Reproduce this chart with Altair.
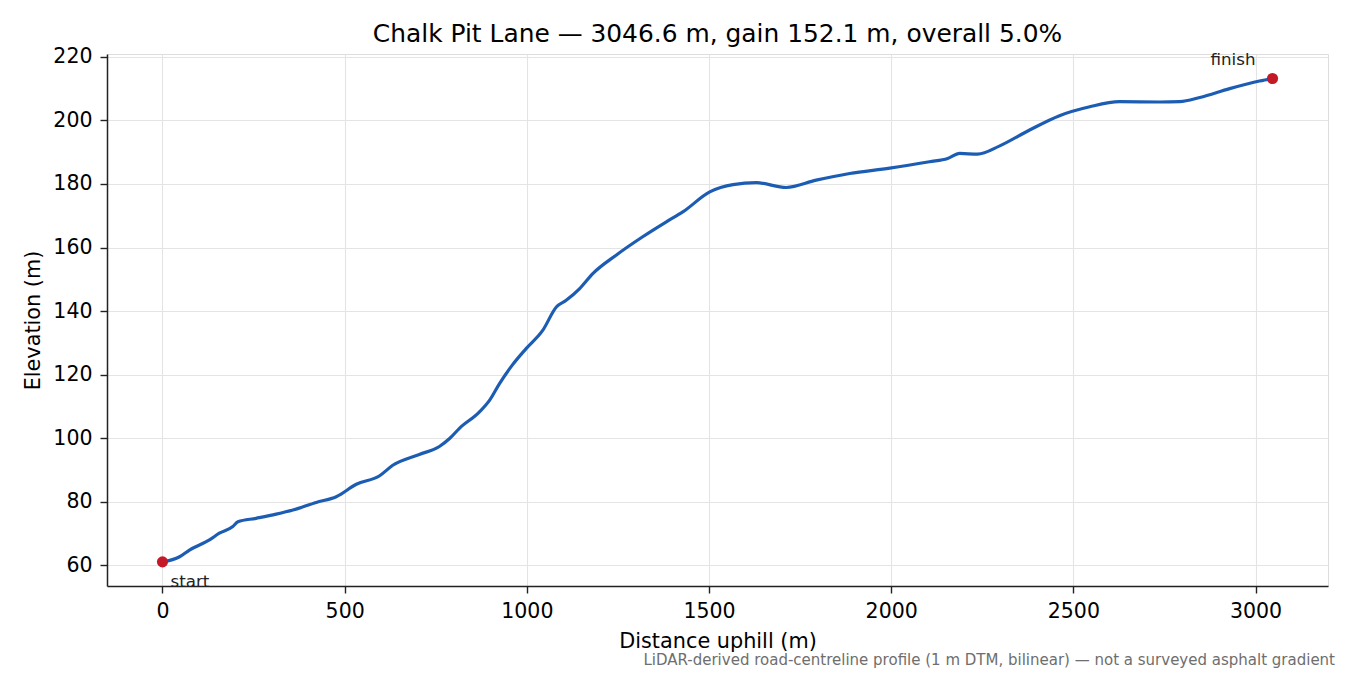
import altair as alt
import pandas as pd

distance = [0, 47, 74, 129, 156, 193, 207, 257, 312, 358, 422, 477, 532, 596, 632,
            705, 760, 788, 815, 870, 898, 925, 960, 998, 1044, 1081, 1108, 1145, 1181,
            1245, 1318, 1383, 1428, 1502, 1566, 1630, 1712, 1794, 1886, 1996, 2105,
            2155, 2188, 2237, 2298, 2380, 2462, 2545, 2627, 2737, 2792, 2847, 2929,
            3011, 3046.6]
elevation = [61.1, 62.7, 64.8, 68.0, 70.1, 72.2, 73.7, 74.8, 76.1, 77.4, 79.8, 81.6,
             85.5, 88.2, 91.5, 94.9, 97.4, 99.9, 103.1, 108.3, 112.0, 117.2, 123.0,
             128.2, 134.0, 141.3, 143.4, 147.1, 151.8, 157.6, 163.4, 168.1, 171.2,
             177.5, 179.8, 180.4, 178.9, 181.2, 183.3, 185.0, 187.0, 188.0, 189.6,
             189.4, 192.0, 197.0, 201.5, 204.3, 205.9, 205.8, 205.9, 207.2, 210.0,
             212.4, 213.2]

end_labels = ["start", "finish"]
end_distance = [0, 3046.6]
end_elevation = [61.1, 213.2]

title_text = "Chalk Pit Lane \u2014 3046.6 m, gain 152.1 m, overall 5.0%"
note_text = ("LiDAR-derived road-centreline profile (1 m DTM, bilinear) \u2014 "
             "not a surveyed asphalt gradient")

profile = pd.DataFrame({"d": distance, "e": elevation})
ends = pd.DataFrame({"label": end_labels, "d": end_distance, "e": end_elevation})

FONT = "DejaVu Sans"
xs = alt.Scale(domain=[-152.3, 3198.9], nice=False, zero=False)
ys = alt.Scale(domain=[53.5, 220.9], nice=False, zero=False)

common = dict(grid=True, gridColor="#e4e4e4", gridWidth=1.1, tickColor="#222222", tickSize=7,
              tickWidth=1.4, domainColor="#222222", domainWidth=1.5, labelFontSize=20.5,
              titleFontSize=20.8, labelColor="black", titleColor="black", labelFont=FONT,
              titleFont=FONT, titleFontWeight="normal", labelFlush=False)

x_axis = alt.Axis(title="Distance uphill (m)", values=[0, 500, 1000, 1500, 2000, 2500, 3000],
                  format="d", titlePadding=10, labelPadding=8, **common)
y_axis = alt.Axis(title="Elevation (m)", values=[60, 80, 100, 120, 140, 160, 180, 200, 220],
                  format="d", titlePadding=9, labelPadding=8, **common)

line = alt.Chart(profile).mark_line(color="#1c5db3", strokeWidth=3.2,
                                    interpolate="monotone").encode(
    x=alt.X("d:Q", scale=xs, axis=x_axis),
    y=alt.Y("e:Q", scale=ys, axis=y_axis),
)

pts = alt.Chart(ends).mark_circle(color="#c41a28", opacity=1, size=125).encode(
    x=alt.X("d:Q", scale=xs), y=alt.Y("e:Q", scale=ys)
)

start_lbl = alt.Chart(ends).transform_filter(alt.datum.label == "start").mark_text(
    align="left", baseline="alphabetic", dx=8, dy=25, fontSize=16.7, font=FONT, color="#222222"
).encode(x=alt.X("d:Q", scale=xs), y=alt.Y("e:Q", scale=ys), text="label:N")

finish_lbl = alt.Chart(ends).transform_filter(alt.datum.label == "finish").mark_text(
    align="right", baseline="alphabetic", dx=-17, dy=-13.5, fontSize=16.7, font=FONT,
    color="#222222"
).encode(x=alt.X("d:Q", scale=xs), y=alt.Y("e:Q", scale=ys), text="label:N")

note = alt.Chart(pd.DataFrame({"t": [note_text]})).mark_text(
    align="right", baseline="alphabetic", fontSize=15, font=FONT, color="#6e6e6e"
).encode(x=alt.value(1228), y=alt.value(611), text="t:N")

chart = alt.layer(line, pts, start_lbl, finish_lbl, note).properties(
    width=1221, height=532,
    title=alt.TitleParams(title_text, fontSize=24.9, font=FONT, fontWeight="normal",
                          color="black", offset=0),
    autosize=alt.AutoSizeParams(type="none"),
    padding={"left": 99, "top": 46, "right": 14, "bottom": 85},
).configure_view(stroke="#222222", strokeWidth=1.5).configure(background="white")

chart.save("out.html", embed_options={"renderer": "svg", "actions": False})
